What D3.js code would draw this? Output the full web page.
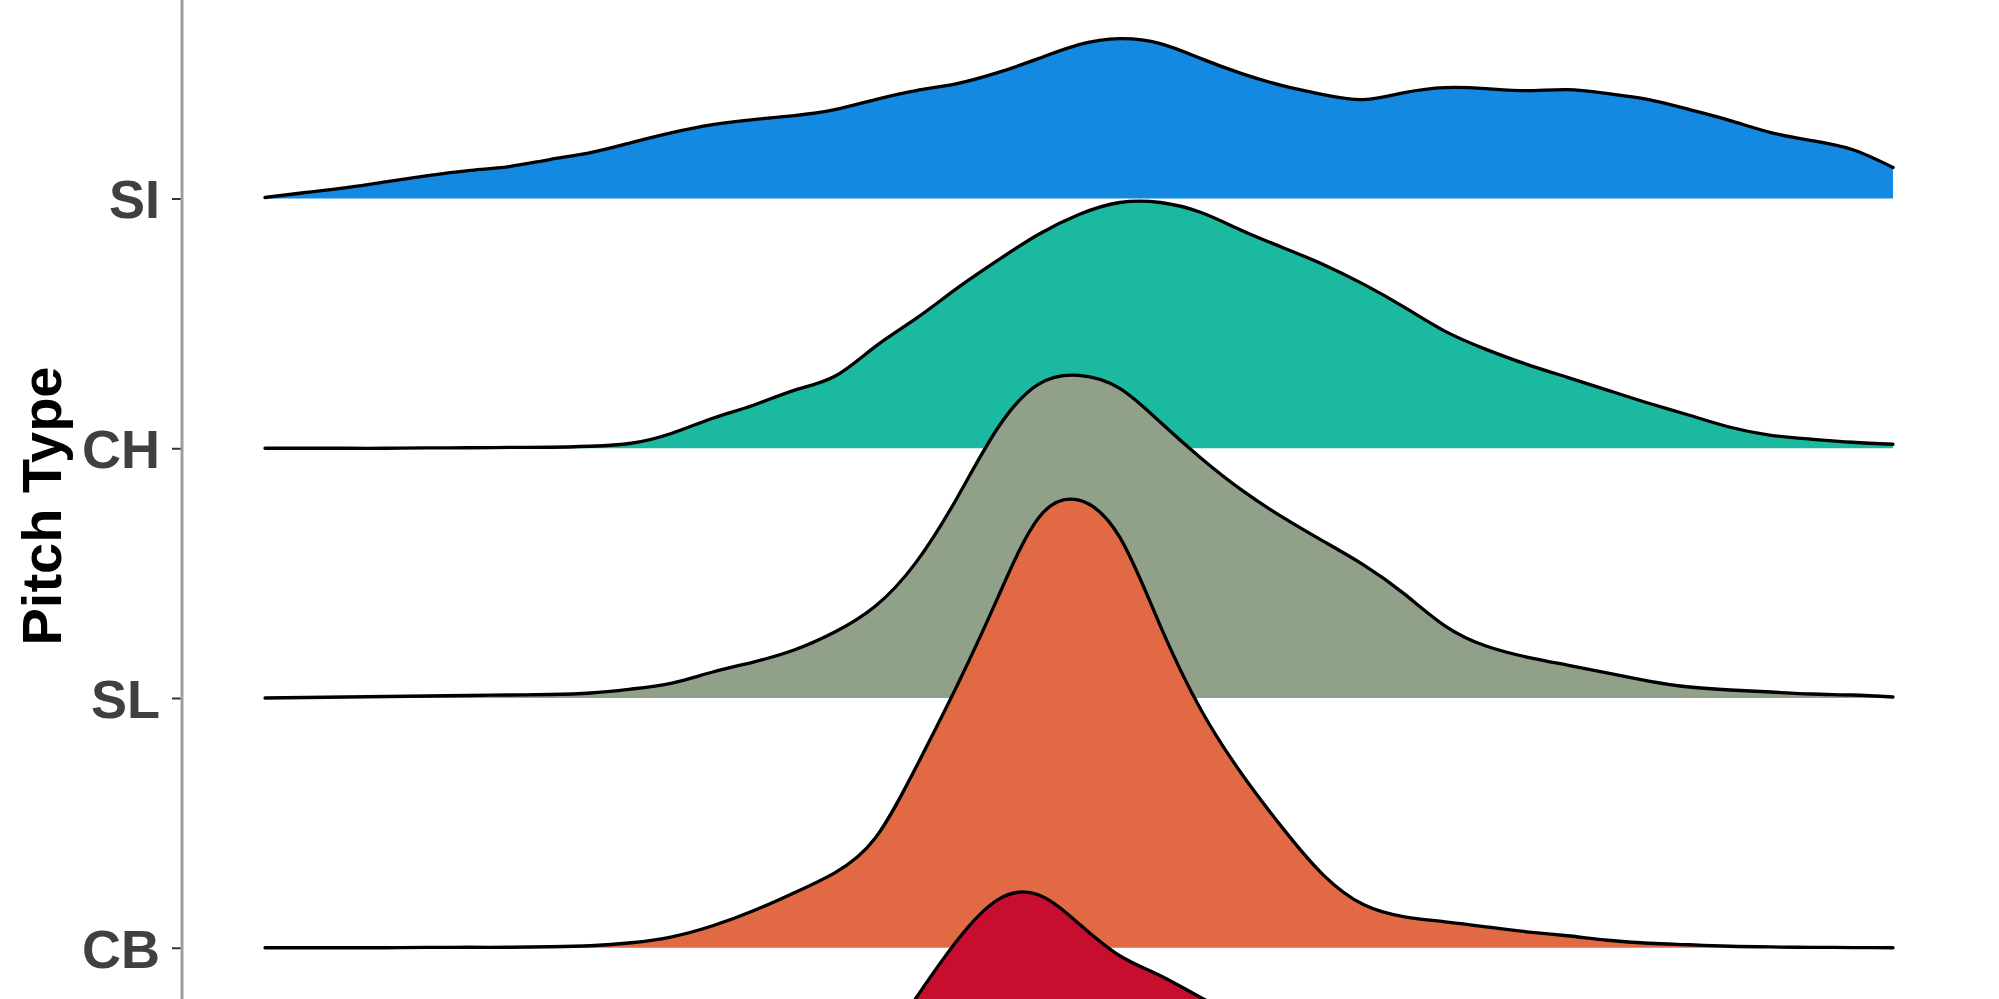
<!DOCTYPE html>
<html>
<head>
<meta charset="utf-8">
<script src="https://cdn.jsdelivr.net/npm/d3@7"></script>
<style>
  html, body { margin: 0; padding: 0; background: #ffffff; }
  svg { display: block; }
</style>
</head>
<body>
<svg id="chart" width="1999" height="999"></svg>
<script>
// ---- Data ----
const pitchTypes = ["SI", "CH", "SL", "CB", "FF"];
const pitchColors = ["#1389E1", "#1BBAA0", "#91A088", "#E16A45", "#C80E2F"];
const xGrid = [0, 2.5, 5, 7.5, 10, 12.5, 15, 17.5, 20, 22.5, 25, 27.5, 30, 32.5, 35, 37.5, 40,
  42.5, 45, 47.5, 50, 52.5, 55, 57.5, 60, 62.5, 65, 67.5, 70, 72.5, 75, 77.5, 80, 82.5, 85,
  87.5, 90, 92.5, 95, 97.5, 100];
const densitySI = [0.01, 0.06, 0.11, 0.17, 0.23, 0.28, 0.32, 0.39, 0.46, 0.56, 0.66, 0.74, 0.79,
  0.83, 0.89, 0.99, 1.08, 1.15, 1.26, 1.40, 1.54, 1.60, 1.55, 1.40, 1.25, 1.13, 1.04, 0.99, 1.06,
  1.11, 1.10, 1.08, 1.09, 1.05, 0.99, 0.89, 0.78, 0.66, 0.58, 0.49, 0.31];
const densityCH = [0, 0, 0, 0, 0.003, 0.005, 0.008, 0.01, 0.02, 0.05, 0.15, 0.30, 0.43, 0.58,
  0.72, 1.02, 1.30, 1.60, 1.88, 2.14, 2.34, 2.46, 2.46, 2.36, 2.18, 2.01, 1.84, 1.64, 1.41, 1.17,
  0.99, 0.84, 0.71, 0.58, 0.45, 0.33, 0.21, 0.13, 0.09, 0.06, 0.04];
const densitySL = [0, 0.005, 0.01, 0.015, 0.02, 0.025, 0.03, 0.035, 0.05, 0.09, 0.15, 0.26, 0.36,
  0.48, 0.66, 0.92, 1.36, 2.00, 2.70, 3.14, 3.23, 3.10, 2.76, 2.40, 2.08, 1.81, 1.57, 1.33, 1.04,
  0.72, 0.52, 0.41, 0.33, 0.25, 0.17, 0.11, 0.08, 0.06, 0.04, 0.03, 0.01];
const densityCB = [0, 0, 0, 0, 0.003, 0.005, 0.005, 0.01, 0.02, 0.05, 0.11, 0.22, 0.37, 0.55,
  0.75, 1.10, 1.81, 2.62, 3.50, 4.30, 4.48, 4.11, 3.22, 2.38, 1.74, 1.20, 0.73, 0.43, 0.31, 0.26,
  0.21, 0.16, 0.12, 0.075, 0.045, 0.03, 0.015, 0.008, 0.004, 0.002, 0];
const densityFF = [0, 0, 0, 0, 0, 0, 0, 0, 0, 0.01, 0.03, 0.08, 0.20, 0.45, 0.85, 1.40, 2.00,
  2.57, 2.98, 3.03, 2.74, 2.42, 2.22, 2.00, 1.78, 1.50, 1.20, 0.90, 0.60, 0.38, 0.22, 0.12, 0.06,
  0.03, 0.01, 0, 0, 0, 0, 0, 0];
const densities = [densitySI, densityCH, densitySL, densityCB, densityFF];
const yTitle = "Pitch Type";

// ---- Layout ----
const W = 1999, H = 999;
const svg = d3.select("#chart");

const x = d3.scaleLinear().domain([0, 100]).range([265, 1893]);
const y = d3.scalePoint().domain(pitchTypes).range([198.5, 1197.5]);
const step = y.step();
const h = d3.scaleLinear().domain([0, 2.5]).range([0, step]);

const ridges = pitchTypes.map((p, i) => ({
  name: p,
  color: pitchColors[i],
  pts: xGrid.map((xv, j) => ({ x: xv, d: densities[i][j] }))
}));

const curve = d3.curveNatural;

ridges.forEach(r => {
  const base = y(r.name);
  const area = d3.area()
    .x(d => x(d.x))
    .y0(base)
    .y1(d => base - h(d.d))
    .curve(curve);
  const line = d3.line()
    .x(d => x(d.x))
    .y(d => base - h(d.d))
    .curve(curve);
  const g = svg.append("g").attr("class", "ridge");
  g.append("path").attr("d", area(r.pts)).attr("fill", r.color).attr("stroke", "none");
  g.append("path").attr("d", line(r.pts)).attr("fill", "none")
    .attr("stroke", "#000").attr("stroke-width", 3.3)
    .attr("stroke-linejoin", "round").attr("stroke-linecap", "round");
});

// ---- Y axis ----
const axisX = 182;
const yAxis = d3.axisLeft(y).tickSize(10).tickPadding(12);
const ag = svg.append("g").attr("transform", `translate(${axisX},0)`).call(yAxis);
ag.select(".domain").remove();
// ticks that fall below the visible area are not drawn
ag.selectAll(".tick").filter(d => y(d) > H).remove();
ag.selectAll(".tick line").attr("stroke", "#333").attr("stroke-width", 2);
ag.selectAll(".tick text")
  .attr("fill", "#404040")
  .attr("font-family", "'Liberation Sans', Arial, sans-serif")
  .attr("font-weight", "bold")
  .attr("font-size", 54)
  .attr("dy", "0.36em");
svg.append("line")
  .attr("x1", axisX).attr("x2", axisX)
  .attr("y1", 0).attr("y2", H)
  .attr("stroke", "#9E9E9E").attr("stroke-width", 3);

// ---- Axis title ----
svg.append("text")
  .attr("transform", "translate(61,506) rotate(-90)")
  .attr("text-anchor", "middle")
  .attr("font-family", "'Liberation Sans', Arial, sans-serif")
  .attr("font-weight", "bold")
  .attr("font-size", 56)
  .attr("fill", "#000")
  .text(yTitle);
</script>
</body>
</html>
